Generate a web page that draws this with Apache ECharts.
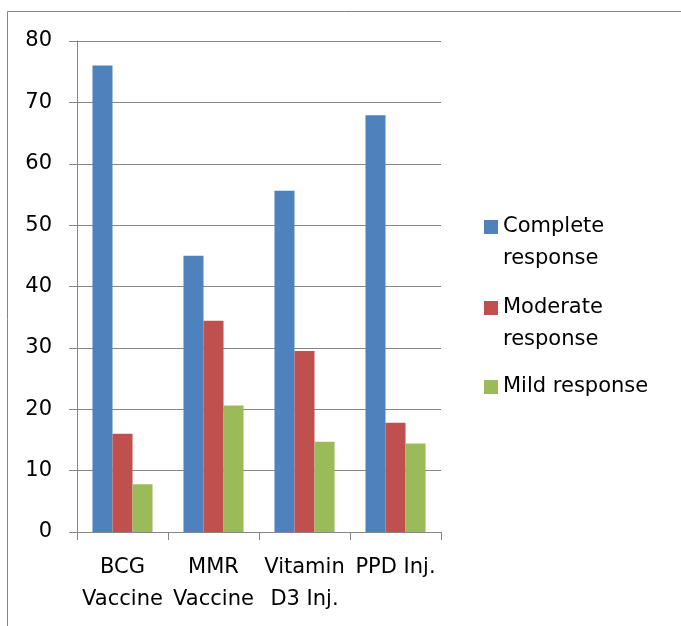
<!DOCTYPE html>
<html>
<head>
<meta charset="utf-8">
<script src="https://cdn.jsdelivr.net/npm/echarts@6/dist/echarts.min.js"></script>
<style>html,body{margin:0;padding:0;background:#fff;}#c{width:681px;height:626px;}</style>
</head>
<body>
<div id="c"></div>
<script>
var categories = ['BCG\nVaccine', 'MMR\nVaccine', 'Vitamin\nD3 Inj.', 'PPD Inj.'];
var seriesNames = ['Complete response', 'Moderate response', 'Mild response'];
var legendLabels = [' \nComplete\nresponse', ' \nModerate\nresponse', 'Mild response'];
var complete = [76, 45, 55.6, 67.9];
var moderate = [16, 34.4, 29.5, 17.8];
var mild = [7.8, 20.6, 14.7, 14.4];
var yTicks = [0, 10, 20, 30, 40, 50, 60, 70, 80];
var colors = ['#4F81BD', '#C0504D', '#9BBB59'];

var FONT = 'DejaVu Sans';
var GRAY = '#868686';
var chart = echarts.init(document.getElementById('c'), null, {renderer: 'canvas'});

function mkLegend(i, top) {
  return {
    show: true,
    orient: 'vertical',
    left: 484,
    top: top,
    padding: 0,
    itemWidth: 14,
    itemHeight: 14,
    itemGap: 6,
    icon: 'rect',
    selectedMode: false,
    data: [{name: seriesNames[i]}],
    formatter: function () { return legendLabels[i]; },
    textStyle: {fontFamily: FONT, fontSize: 21, color: '#000', lineHeight: 32}
  };
}

var option = {
  animation: false,
  color: colors,
  textStyle: {fontFamily: FONT},
  grid: {left: 77, top: 41, width: 364, height: 491, containLabel: false},
  legend: [mkLegend(0, 179), mkLegend(1, 260), mkLegend(2, 371)],
  xAxis: {
    type: 'category',
    data: categories,
    boundaryGap: true,
    axisLine: {show: true, lineStyle: {color: GRAY, width: 1}},
    axisTick: {show: true, length: 8, alignWithLabel: false, lineStyle: {color: GRAY}},
    axisLabel: {interval: 0, hideOverlap: false, margin: 20, fontFamily: FONT, fontSize: 21, lineHeight: 32, color: '#000'},
    splitLine: {show: false}
  },
  yAxis: {
    type: 'value',
    min: yTicks[0],
    max: yTicks[yTicks.length - 1],
    interval: 10,
    axisLine: {show: true, lineStyle: {color: GRAY, width: 1}},
    axisTick: {show: true, length: 8, inside: false, lineStyle: {color: GRAY}},
    axisLabel: {margin: 25, fontFamily: FONT, fontSize: 21, color: '#000'},
    splitLine: {show: true, lineStyle: {color: GRAY, width: 1}}
  },
  series: [
    {name: seriesNames[0], type: 'bar', data: complete, barGap: '0%', barCategoryGap: '34%'},
    {name: seriesNames[1], type: 'bar', data: moderate, barGap: '0%', barCategoryGap: '34%'},
    {name: seriesNames[2], type: 'bar', data: mild, barGap: '0%', barCategoryGap: '34%'}
  ],
  graphic: [{
    type: 'rect', silent: true, z: -10,
    shape: {x: 7.5, y: 11.5, width: 800, height: 800},
    style: {fill: 'none', stroke: GRAY, lineWidth: 1}
  }]
};
chart.setOption(option);
</script>
</body>
</html>
